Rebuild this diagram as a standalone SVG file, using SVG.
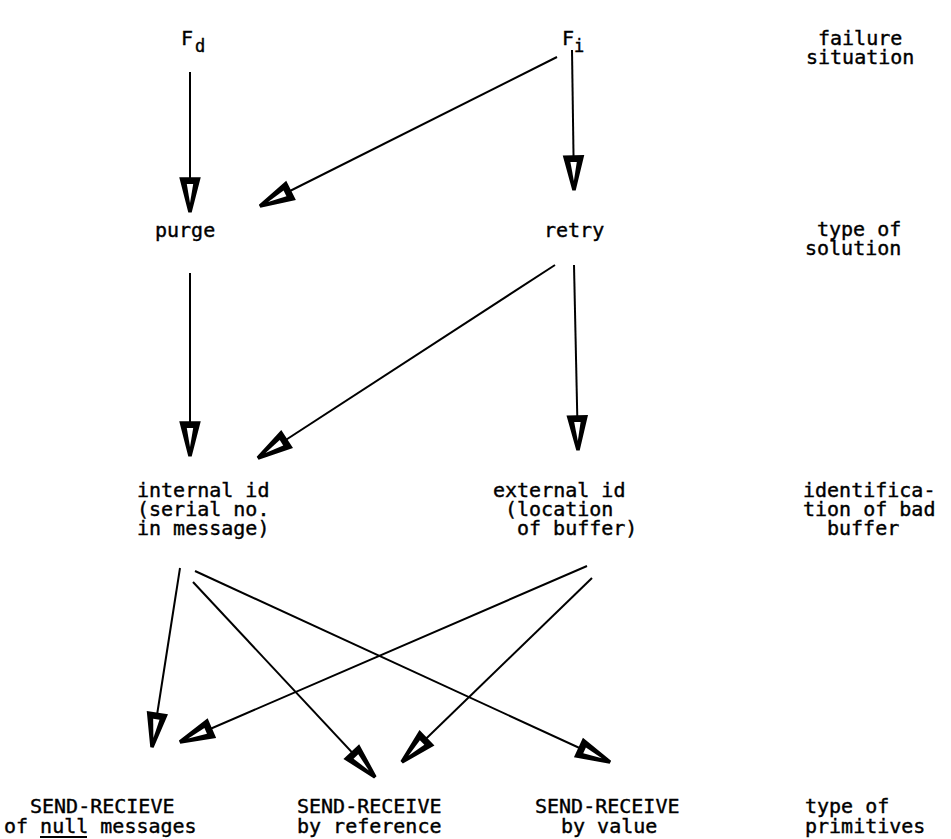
<svg xmlns="http://www.w3.org/2000/svg" width="951" height="839" viewBox="0 0 951 839">
<defs>
<style>
text{font-family:"DejaVu Sans Mono","Liberation Mono",monospace;font-size:20px;fill:#000;stroke:#000;stroke-width:0.4}
.sub{font-size:17px}
.c{stroke:#000;stroke-width:2;fill:none;marker-end:url(#ah)}
</style>
<marker id="ah" markerUnits="userSpaceOnUse" markerWidth="46" markerHeight="28" viewBox="-42 -14 46 28" refX="0" refY="0" orient="auto">
<path d="M0,0 L-33,-8.5 L-33,8.5 Z" fill="#000" stroke="#000" stroke-width="3.5" stroke-linejoin="miter"/>
<path d="M-9,0 L-28,-3.2 L-28,3.2 Z" fill="#fff"/>
</marker>
</defs>
<rect width="951" height="839" fill="#fff"/>
<g id="Fd"><text x="181" y="45">F</text><text class="sub" x="195" y="52">d</text></g>
<g id="Fi"><text x="562" y="45">F</text><text class="sub" x="574" y="52">i</text></g>
<g id="failure"><text x="818" y="45">failure</text><text x="806" y="64">situation</text></g>
<g id="purge"><text x="155" y="237">purge</text></g>
<g id="retry"><text x="544" y="237">retry</text></g>
<g id="solution"><text x="817" y="236">type of</text><text x="805" y="255">solution</text></g>
<g id="internal"><text x="137" y="497">internal id</text><text x="137" y="516">(serial no.</text><text x="137" y="535">in message)</text></g>
<g id="external"><text x="493" y="497">external id</text><text x="505" y="516">(location</text><text x="517" y="535">of buffer)</text></g>
<g id="ident"><text x="803" y="497">identifica-</text><text x="803" y="516">tion of bad</text><text x="827" y="535">buffer</text></g>
<g id="null"><text x="30" y="813">SEND-RECIEVE</text><text x="4" y="833">of null messages</text><line x1="40" y1="837" x2="87" y2="837" stroke="#000" stroke-width="2"/></g>
<g id="byref"><text x="297" y="813">SEND-RECEIVE</text><text x="297" y="833">by reference</text></g>
<g id="byval"><text x="535" y="813">SEND-RECEIVE</text><text x="561" y="833">by value</text></g>
<g id="prim"><text x="805" y="813">type of</text><text x="805" y="833">primitives</text></g>
<g id="connectors">
<line class="c" x1="190" y1="72" x2="190" y2="212"/>
<line class="c" x1="557" y1="57" x2="260" y2="206"/>
<line class="c" x1="572" y1="50" x2="574" y2="190"/>
<line class="c" x1="190" y1="273" x2="190" y2="456"/>
<line class="c" x1="555" y1="265" x2="258" y2="458"/>
<line class="c" x1="574" y1="265" x2="578" y2="450"/>
<line class="c" x1="180" y1="568" x2="152" y2="747"/>
<line class="c" x1="193" y1="582" x2="375" y2="777"/>
<line class="c" x1="195" y1="571" x2="610" y2="762"/>
<line class="c" x1="587" y1="566" x2="180" y2="742"/>
<line class="c" x1="592" y1="578" x2="402" y2="762"/>
</g>
</svg>
